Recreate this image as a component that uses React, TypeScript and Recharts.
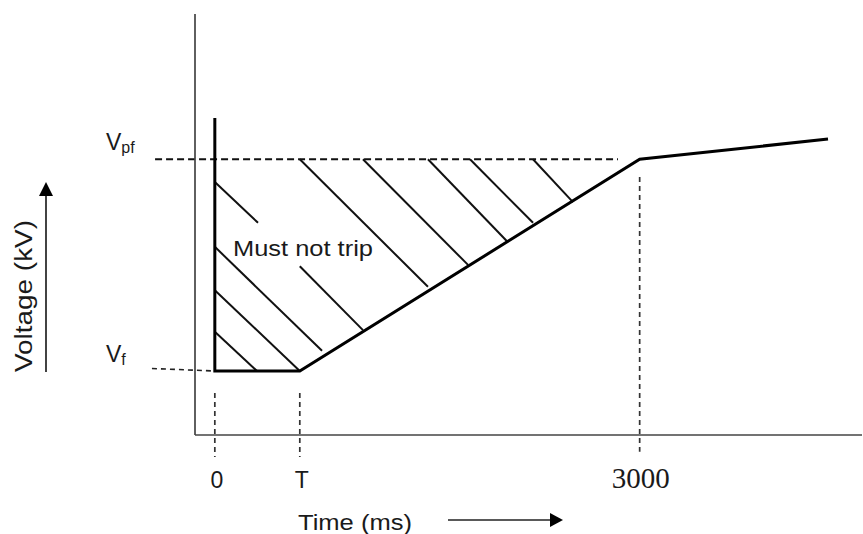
import React from "react";
import { LineChart, Line, XAxis, YAxis, ReferenceLine, ReferenceDot } from "recharts";

// curve: vertical at t=0, flat until T, ramp to Vpf at 3000 ms, then slow rise
const curveTime = [0, 0, 600, 3000, 4330];
const curveVolt = [75.3, 15.2, 15.2, 65.5, 70.3];

const timeTicks = [0, 600, 3000];
const timeTickLabels = ["0", "T", "3000"];
const voltTicks = [15.2, 65.5];
const voltTickMain = ["V", "V"];
const voltTickSub = ["f", "pf"];

// hatching strokes inside the "must not trip" area (time, voltage)
const hatchFrom = [
  [0, 60.1], [0, 44.7], [0, 34.4], [0, 24.5], [600, 40.1],
  [600, 65.5], [1046, 65.5], [1505, 65.5], [1802, 65.5], [2247, 65.5],
];
const hatchTo = [
  [305, 50.4], [757, 20.0], [600, 15.2], [298, 15.2], [1046, 24.9],
  [1505, 35.2], [1788, 40.4], [2070, 45.8], [2247, 50.4], [2529, 55.3],
];

// dashed guides
const vpfGuide = [[-422, 65.5], [2847, 65.5]];
const vfGuide = [[-444, 15.8], [0, 15.2]];
const dropGuides = [
  [[0, 10], [0, -5.2]],
  [[600, 10], [600, -5.2]],
  [[3000, 61.3], [3000, -4]],
];

const noteTime = 128;
const noteVolt = 42.5;

const data = curveTime.map((t, i) => ({ t, v: curveVolt[i] }));

const sans = "'Liberation Sans', Arial, sans-serif";
const serif = "'Liberation Serif', 'Times New Roman', serif";
const ink = "#1a1a1a";

const TimeTick = (props: any) => {
  const { x, y, payload } = props;
  const i = timeTicks.indexOf(payload.value);
  const isSerif = payload.value === 3000;
  return (
    <text x={x + (isSerif ? 1 : 2)} y={y + 53} textAnchor="middle" fill={ink}
      fontFamily={isSerif ? serif : sans} fontSize={isSerif ? 29 : 23}>
      {timeTickLabels[i]}
    </text>
  );
};

const VoltTick = (props: any) => {
  const { y, payload } = props;
  const i = voltTicks.indexOf(payload.value);
  return (
    <text x={106} y={y - 9} fill={ink} fontFamily={sans} fontSize={23}>
      {voltTickMain[i]}
      <tspan fontSize={16} dy={3}>{voltTickSub[i]}</tspan>
    </text>
  );
};

const TimeTitle = (props: any) => {
  const vb = props.viewBox || { x: 195, y: 435 };
  const bx = vb.x, by = vb.y;
  return (
    <g>
      <text x={bx + 103} y={by + 95} fill={ink} fontFamily={sans} fontSize={22}
        textLength={114} lengthAdjust="spacingAndGlyphs">Time (ms)</text>
      <line x1={bx + 253} y1={by + 85} x2={bx + 356} y2={by + 85} stroke="#222" strokeWidth={1.7} />
      <polygon points={`${bx + 355},${by + 78} ${bx + 368},${by + 85} ${bx + 355},${by + 92}`} fill="#000" />
    </g>
  );
};

const VoltTitle = (props: any) => {
  const vb = props.viewBox || { x: 0, y: 14 };
  const tx = vb.x + 32, ty = vb.y + 358;
  const ax = vb.x + 46;
  return (
    <g>
      <text x={tx} y={ty} transform={`rotate(-90 ${tx} ${ty})`} fill={ink} fontFamily={sans}
        fontSize={23} textLength={152} lengthAdjust="spacingAndGlyphs">Voltage (kV)</text>
      <line x1={ax} y1={vb.y + 358} x2={ax} y2={vb.y + 182} stroke="#222" strokeWidth={1.7} />
      <polygon points={`${ax - 7},${vb.y + 182} ${ax},${vb.y + 168} ${ax + 7},${vb.y + 182}`} fill="#000" />
    </g>
  );
};

const Note = (props: any) => (
  <text x={props.cx} y={props.cy} fill={ink} fontFamily={sans} fontSize={22}
    textLength={140} lengthAdjust="spacingAndGlyphs">Must not trip</text>
);

const seg = (p: number[][]) => p.map(([x, y]) => ({ x, y }));

export default function App() {
  return (
    <div style={{ position: "absolute", left: 0, top: 0, width: 863, height: 534, background: "#fff" }}>
      <LineChart width={863} height={534} data={data} margin={{ top: 14, right: 1, bottom: 0, left: 0 }}>
        <XAxis type="number" dataKey="t" domain={[-140, 4570]} allowDataOverflow ticks={timeTicks}
          interval={0} tick={<TimeTick />} tickLine={false} tickSize={0} tickMargin={0} height={99}
          axisLine={{ stroke: "#444", strokeWidth: 1.7 }} label={{ content: TimeTitle } as any} />
        <YAxis type="number" domain={[0, 100]} allowDataOverflow ticks={voltTicks} interval={0}
          tick={<VoltTick />} tickLine={false} tickSize={0} tickMargin={0} width={195}
          axisLine={{ stroke: "#444", strokeWidth: 1.7 }} label={{ content: VoltTitle } as any} />

        <ReferenceLine segment={seg(vpfGuide)} ifOverflow="visible" stroke="#111" strokeWidth={1.8} strokeDasharray="7 4" />
        <ReferenceLine segment={seg(vfGuide)} ifOverflow="visible" stroke="#222" strokeWidth={1.6} strokeDasharray="5 4" />
        {dropGuides.map((g, i) => (
          <ReferenceLine key={"d" + i} segment={seg(g)} ifOverflow="visible" stroke="#333" strokeWidth={1.7} strokeDasharray="5 4" />
        ))}
        {hatchFrom.map((a, i) => (
          <ReferenceLine key={"h" + i} segment={seg([a, hatchTo[i]])} ifOverflow="visible" stroke="#111" strokeWidth={2} />
        ))}
        <ReferenceDot x={noteTime} y={noteVolt} r={0} ifOverflow="visible" shape={Note} />

        <Line type="linear" dataKey="v" stroke="#000" strokeWidth={3} dot={false} activeDot={false}
          isAnimationActive={false} />
      </LineChart>
    </div>
  );
}
